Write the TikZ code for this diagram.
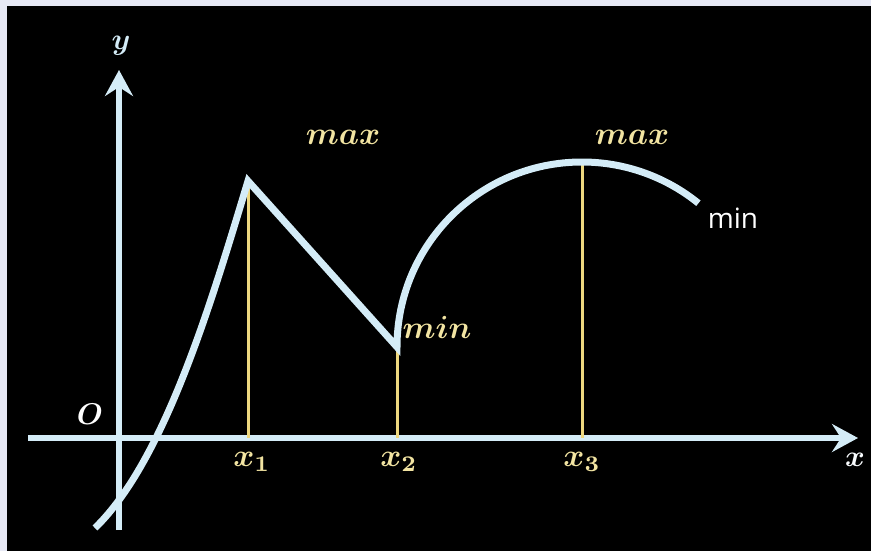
\documentclass[tikz,border=0pt]{standalone}
\usepackage{amsmath}
\usepackage{fontspec}
\usetikzlibrary{arrows.meta}
\newfontfamily\labelfont{Open Sans}
\definecolor{axisblue}{HTML}{D4ECF7}
\definecolor{markyellow}{HTML}{EED87F}
\definecolor{textyellow}{HTML}{F2E4A2}
\definecolor{frame}{HTML}{E7E9F5}
\tikzset{
  axis/.style={axisblue, line width=6pt, -{Stealth[length=26pt,width=28pt,inset=9pt]}},
  curve/.style={axisblue, line width=7pt},
  marker/.style={markyellow, line width=3pt},
  ylabel/.style={textyellow, scale=3.2},
  alabel/.style={scale=3}
}
\begin{document}
\begin{tikzpicture}[x=1pt,y=-1pt]
\fill[frame] (0,0) rectangle (871,551);
\fill[black] (7,6) rectangle (871,551);
\useasboundingbox (0,0) rectangle (871,551);

% axes
\coordinate (xs) at (28,438);
\coordinate (xe) at (858,438);
\coordinate (ys) at (119,530);
\coordinate (ye) at (119,70);
\draw[axis] (xs) -- (xe);
\draw[axis] (ys) -- (ye);
\node[alabel, axisblue] (ylab) at (121,46) {$\boldsymbol{y}$};
\node[alabel, white!85!axisblue] (xlab) at (855,460) {$\boldsymbol{x}$};
\node[alabel, white] (orig) at (90,414) {$\boldsymbol{O}$};

% extreme points
\coordinate (p0) at (95,528);
\coordinate (p1) at (248,181);
\coordinate (p2) at (397,347);
\coordinate (p3) at (582,162);
\coordinate (f1) at (248,438);
\coordinate (f2) at (397,438);
\coordinate (f3) at (582,438);

\draw[marker] (p1) -- (f1);
\draw[marker] (p2) -- (f2);
\draw[marker] (p3) -- (f3);

% the function
\draw[curve, line join=miter] (p0) .. controls (165,460) and (212,300) .. (p1)
  -- (p2) arc[start angle=180, end angle=309, radius=185];

\node[ylabel] (x1) at (252,462) {$\boldsymbol{x_1}$};
\node[ylabel] (x2) at (399,462) {$\boldsymbol{x_2}$};
\node[ylabel] (x3) at (582,462) {$\boldsymbol{x_3}$};
\node[ylabel] (max1) at (343,137) {$\boldsymbol{max}$};
\node[ylabel] (max2) at (632,137) {$\boldsymbol{max}$};
\node[ylabel] (min1) at (437,327) {$\boldsymbol{min}$};
\node[white, font=\labelfont\fontsize{28}{32}\selectfont] (min2) at (733,218) {min};
\end{tikzpicture}
\end{document}
